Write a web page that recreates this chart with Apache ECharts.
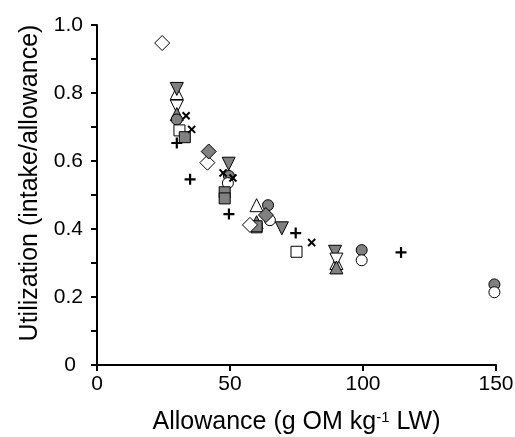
<!DOCTYPE html>
<html><head><meta charset="utf-8">
<script src="https://cdn.jsdelivr.net/npm/echarts@6/dist/echarts.min.js"></script>
<style>html,body{margin:0;padding:0;background:#fff}#c{width:515px;height:437px}</style>
</head><body><div id="c"></div>
<script>
// Data: [allowance, utilization]
const openDiamond   = [[24.5,0.947],[41.5,0.595],[57.5,0.412]];
const greyDiamond   = [[42,0.628],[63.5,0.441]];
const openTriUp     = [[30,0.800],[60,0.470],[90,0.300]];
const greyTriUp     = [[30,0.738],[60,0.420],[90,0.287]];
const greyTriDown   = [[30,0.812],[49.5,0.592],[69.5,0.402],[89.5,0.333]];
const openTriDown   = [[30,0.760],[90,0.310]];
const openSquare    = [[31,0.690],[60,0.405],[75,0.333]];
const greySquare    = [[33,0.670],[48,0.508],[48,0.490],[60,0.408]];
const crossX        = [[33.5,0.733],[35.6,0.693],[47.4,0.565],[51.1,0.550],[80.7,0.360]];
const plusSign      = [[30,0.653],[35,0.546],[49.6,0.444],[74.7,0.388],[114.3,0.331]];
const openCircle    = [[49.2,0.535],[65,0.426],[99.5,0.308],[149.4,0.214]];
const greyCircle    = [[30,0.722],[49.6,0.556],[64.3,0.470],[99.5,0.338],[149.4,0.237]];

const xTicks = [0,50,100,150];
const yTicks = [0,0.2,0.4,0.6,0.8,1.0];

const GREY = '#808080';
const PLUS = 'path://M4,0H6V4H10V6H6V10H4V6H0V4H4Z';

function s(data, symbol, size, fill, rot, border){
  return {
    type:'scatter', data:data, symbol:symbol, symbolSize:size, symbolRotate:rot||0,
    itemStyle:{color:fill, borderColor:'#000', borderWidth: border===undefined?1:border, opacity:1},
    emphasis:{disabled:true}, animation:false
  };
}

const chart = echarts.init(document.getElementById('c'));
chart.setOption({
  animation:false,
  grid:{left:97,right:19,top:25,bottom:72,containLabel:false,outerBoundsMode:'none'},
  xAxis:{
    type:'value', min:0, max:150, interval:50,
    axisLine:{show:true,onZero:false,lineStyle:{color:'#000',width:2}},
    axisTick:{show:true,inside:false,length:6,lineStyle:{color:'#000',width:2}},
    splitLine:{show:false},
    axisLabel:{color:'#000',fontSize:21,fontFamily:'Liberation Sans, Arial',margin:9},
    name:'Allowance (g OM kg{sup|-1} LW)', nameLocation:'middle', nameGap:45,
    nameTextStyle:{color:'#000',fontSize:25,fontFamily:'Liberation Sans, Arial',
      rich:{sup:{fontSize:15,verticalAlign:'top',lineHeight:18,padding:[0,0,10,0],fontFamily:'Liberation Sans, Arial'}}}
  },
  yAxis:{
    type:'value', min:0, max:1, interval:0.1,
    axisLine:{show:true,lineStyle:{color:'#000',width:2}},
    axisTick:{show:true,inside:false,length:6,lineStyle:{color:'#000',width:2}},
    splitLine:{show:false},
    axisLabel:{color:'#000',fontSize:21,fontFamily:'Liberation Sans, Arial',margin:14,
      formatter:function(v){
        const r=Math.round(v*10);
        if(r%2!==0) return '';
        if(r===0) return '{z|0}';
        return (r/10).toFixed(1);
      },
      rich:{z:{fontSize:21,fontFamily:'Liberation Sans, Arial',color:'#000',padding:[0,7,0,0]}}
    },
    name:'Utilization (intake/allowance)', nameLocation:'middle', nameGap:47,
    nameTextStyle:{color:'#000',fontSize:25,fontFamily:'Liberation Sans, Arial',padding:[0,0,0,24]}
  },
  series:[
    s(openTriUp,'triangle',13,'#fff'),
    s(greyTriDown,'triangle',13,GREY,180),
    s(openTriDown,'triangle',13,'#fff',180),
    s(greyTriUp,'triangle',13,GREY),
    s(greyCircle,'circle',11,GREY),
    s(openCircle,'circle',11,'#fff'),
    s(openSquare,'rect',11,'#fff'),
    s(greySquare,'rect',11,GREY),
    s(openDiamond,'diamond',15,'#fff'),
    s(greyDiamond,'diamond',15,GREY),
    s(crossX,PLUS,10,'#000',45,0),
    s(plusSign,PLUS,11,'#000',0,0)
  ]
});
</script></body></html>
